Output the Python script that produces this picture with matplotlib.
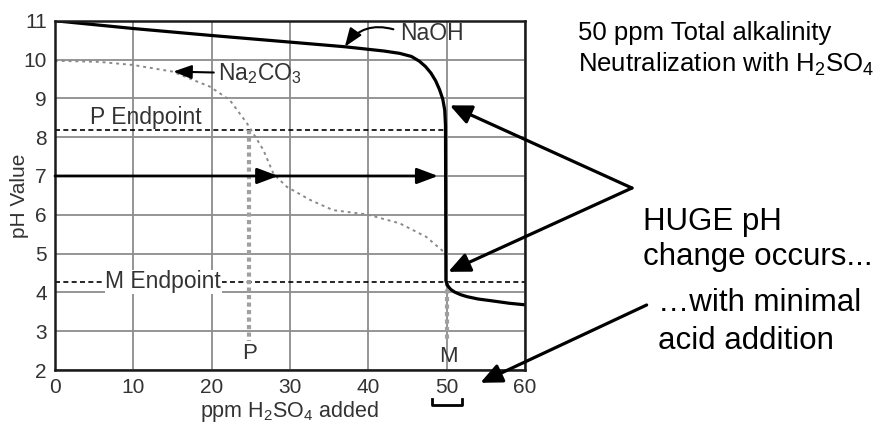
import numpy as np
import matplotlib
matplotlib.use("Agg")
import matplotlib.pyplot as plt

plt.rcParams['font.family'] = ['Liberation Sans', 'DejaVu Sans']
plt.rcParams['mathtext.fontset'] = 'custom'
plt.rcParams['mathtext.rm'] = 'Liberation Sans'
plt.rcParams['mathtext.default'] = 'regular'

# titration curves
naoh_x = [0, 10, 20, 30, 37, 42, 44, 45.5, 46.5, 47.3, 48, 48.6, 49.1, 49.5, 49.75, 49.85,
          49.9, 50.1, 50.5, 51, 51.8, 52.6, 54, 55.5, 58, 60]
naoh_y = [11, 10.8, 10.62, 10.45, 10.33, 10.22, 10.16, 10.08, 9.96, 9.82, 9.65, 9.45, 9.22,
          8.98, 8.7, 8.3, 4.3, 4.18, 4.08, 4.01, 3.94, 3.89, 3.83, 3.79, 3.72, 3.68]

na2co3_x = [0, 5.7, 10, 15, 19.8, 22.3, 24.5, 25.3, 26.6, 27.9, 29.6, 32.6, 35.5,
            39.8, 44, 47.4, 49.6]
na2co3_y = [9.97, 9.94, 9.86, 9.69, 9.3, 8.96, 8.36, 8.1, 7.67, 7.05, 6.72, 6.38, 6.12,
            6.01, 5.78, 5.43, 5.05]

p_endpoint = 8.18
m_endpoint = 4.27
p_dose = 24.8
m_dose = 50.0
x_ticks = [0, 10, 20, 30, 40, 50, 60]
y_ticks = [2, 3, 4, 5, 6, 7, 8, 9, 10, 11]

fig = plt.figure(figsize=(8.84, 4.28), dpi=100)
ax = fig.add_axes([0.0622, 0.1355, 0.5317, 0.816])

ax.set_xlim(0, 60)
ax.set_ylim(2, 11)
ax.set_xticks(x_ticks)
ax.set_yticks(y_ticks)
ax.grid(True, color='#8c8c8c', lw=1.3)
ax.set_axisbelow(True)
ax.tick_params(length=0, pad=6, labelsize=15, labelcolor='#333333')
for sp in ax.spines.values():
    sp.set_linewidth(1.8)
    sp.set_color('#1a1a1a')

ax.set_xlabel('ppm H$_2$SO$_4$ added', fontsize=15.5, color='#333333', labelpad=1)
ax.set_ylabel('pH Value', fontsize=15, color='#333333')
ax.yaxis.set_label_coords(-0.056, 0.5)

# endpoints
ax.plot([0, m_dose], [p_endpoint, p_endpoint], color='black', lw=1.2, ls=(0, (3, 2)))
ax.plot([0, 60], [m_endpoint, m_endpoint], color='black', lw=1.2, ls=(0, (3, 2)))
ax.plot([p_dose, p_dose], [p_endpoint, 2.75], color='#a0a0a0', lw=3, ls=(0, (1, 0.8)))
ax.plot([m_dose, m_dose], [m_endpoint, 2.75], color='#a0a0a0', lw=3, ls=(0, (1, 0.8)))
ax.text(4.5, 8.5, 'P Endpoint', fontsize=16.5, color='#333333', va='center')
ax.text(13.8, m_endpoint, 'M Endpoint', fontsize=16.5, color='#333333', va='center', ha='center',
        bbox=dict(facecolor='white', edgecolor='none', pad=0.5))
ax.text(p_dose, 2.43, 'P', fontsize=16, color='#333333', ha='center', va='center')
ax.text(m_dose + 0.2, 2.36, 'M', fontsize=16, color='#333333', ha='center', va='center')

# curves
ax.plot(na2co3_x, na2co3_y, color='#8a8a8a', lw=1.4, ls=(0, (1.5, 2)))
ax.plot(naoh_x, naoh_y, color='black', lw=2.3, solid_capstyle='butt', solid_joinstyle='round')

# pH 7 arrows
ax.annotate('', xy=(28.5, 7), xytext=(0, 7),
            arrowprops=dict(arrowstyle='-|>,head_length=0.8,head_width=0.3', lw=2, color='black',
                            mutation_scale=16, shrinkA=0, shrinkB=0))
ax.annotate('', xy=(48.9, 7), xytext=(28.0, 7),
            arrowprops=dict(arrowstyle='-|>,head_length=0.8,head_width=0.3', lw=2, color='black',
                            mutation_scale=16, shrinkA=0, shrinkB=0))

# curve labels
ax.annotate('Na$_2$CO$_3$', xy=(15.1, 9.69), xytext=(20.8, 9.64), fontsize=16.5, color='#333333',
            ha='left', va='center',
            arrowprops=dict(arrowstyle='-|>,head_length=0.8,head_width=0.3', lw=1.5, color='black',
                            mutation_scale=14, shrinkA=1, shrinkB=0))
ax.text(44.0, 10.67, 'NaOH', fontsize=16.5, color='#333333', ha='left', va='center')
ax.annotate('', xy=(37.0, 10.33), xytext=(43.2, 10.78),
            arrowprops=dict(arrowstyle='-|>,head_length=0.8,head_width=0.3', lw=1.5, color='black',
                            mutation_scale=14, shrinkA=0, shrinkB=0,
                            connectionstyle='arc3,rad=0.35'))

# bracket under the 50 tick
ax.plot([48.1, 48.1, 51.9, 51.9], [1.26, 1.09, 1.09, 1.26], color='black', lw=2,
        clip_on=False, transform=ax.transData)

# callouts outside the chart
big = dict(arrowstyle='-|>,head_length=1.0,head_width=0.45', lw=2.3, color='black',
           mutation_scale=13, shrinkA=0, shrinkB=0)
ax.annotate('', xy=(50.4, 8.82), xytext=(0.7149, 0.5607), textcoords='figure fraction',
            arrowprops=big, annotation_clip=False)
ax.annotate('', xy=(50.2, 4.53), xytext=(0.7149, 0.5607), textcoords='figure fraction',
            arrowprops=big, annotation_clip=False)
ax.annotate('', xy=(54.3, 1.67), xytext=(0.7315, 0.2874), textcoords='figure fraction',
            arrowprops=big, annotation_clip=False)

fig.text(0.654, 0.9065, '50 ppm Total alkalinity', fontsize=18.5, va='baseline')
fig.text(0.654, 0.8325, 'Neutralization with H$_2$SO$_4$', fontsize=18.5, va='baseline')

fig.text(0.7274, 0.4626, 'HUGE pH', fontsize=22.5, va='baseline')
fig.text(0.7274, 0.381, 'change occurs...', fontsize=22.5, va='baseline')
fig.text(0.7443, 0.2734, '\u2026with minimal', fontsize=22.5, va='baseline')
fig.text(0.7443, 0.1846, 'acid addition', fontsize=22.5, va='baseline')

fig.savefig('out.png', dpi=100)
